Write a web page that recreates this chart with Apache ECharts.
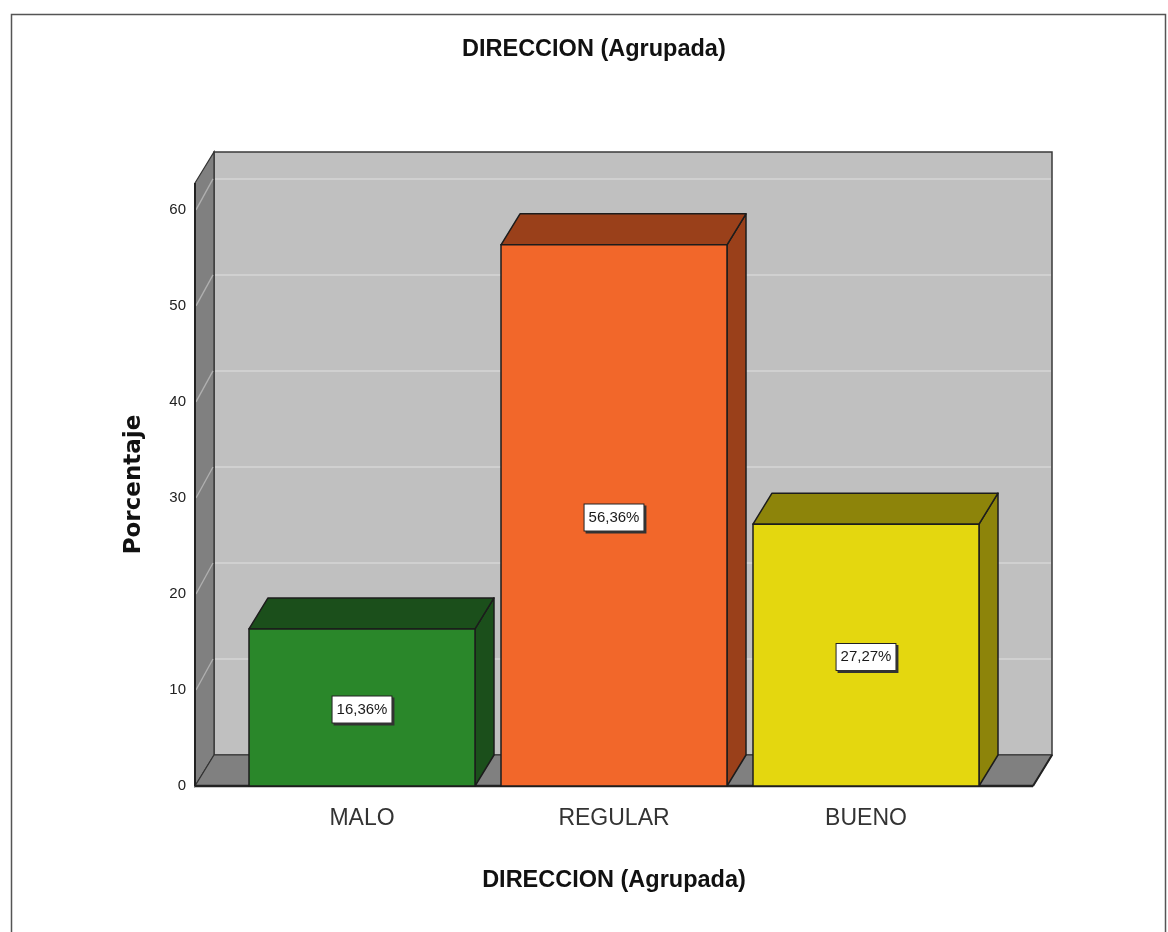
<!DOCTYPE html>
<html>
<head>
<meta charset="utf-8">
<title>DIRECCION (Agrupada)</title>
<script src="https://cdn.jsdelivr.net/npm/echarts@6/dist/echarts.min.js"></script>
<style>
  html, body { margin: 0; padding: 0; background: #ffffff; }
  #chart { width: 1168px; height: 932px; }
</style>
</head>
<body>
<div id="chart"></div>
<script>
// Categories and percentages
const CATEGORIES = ['MALO', 'REGULAR', 'BUENO'];
const PERCENTAGES = [16.36, 56.36, 27.27];
const Y_TICKS = [0, 10, 20, 30, 40, 50, 60];
const Y_MAX = 62.8;

// Styling for the pseudo-3D box
const DEPTH_X = 19;       // depth offset, horizontal
const DEPTH_Y = -31;      // depth offset, vertical
const WALL_PAD = 41;      // extra floor beyond the outer bars
const BAR_RATIO = 226 / 252;
const FRONT_COLORS = ['#2a872a', '#f2672a', '#e4d70f'];
const SHADE_COLORS = ['#1b4f1b', '#9a401a', '#8d840a'];
const EDGE = '#1c1c1c';

const chart = echarts.init(document.getElementById('chart'), null, { renderer: 'canvas' });

function fmt(v) {
  return v.toFixed(2).replace('.', ',') + '%';
}

function renderWalls(params, api) {
  const band = api.size([1, 0])[0];
  const first = api.coord([0, 0]);
  const last = api.coord([CATEGORIES.length - 1, 0]);
  const L = first[0] - band / 2 - WALL_PAD;
  const R = last[0] + band / 2 + WALL_PAD;
  const B = first[1];
  const T = api.coord([0, Y_MAX])[1];
  const dx = DEPTH_X, dy = DEPTH_Y;
  const children = [];

  // back wall
  children.push({
    type: 'rect',
    shape: { x: L + dx, y: T + dy, width: R - L, height: B - T },
    style: { fill: '#c0c0c0', stroke: '#3a3a3a', lineWidth: 1.5 }
  });
  // left side wall
  children.push({
    type: 'polygon',
    shape: { points: [[L, T], [L + dx, T + dy], [L + dx, B + dy], [L, B]] },
    style: { fill: '#808080', stroke: '#333333', lineWidth: 1.2 }
  });
  // floor
  children.push({
    type: 'polygon',
    shape: { points: [[L, B], [L + dx, B + dy], [R + dx, B + dy], [R, B]] },
    style: { fill: '#808080', stroke: '#333333', lineWidth: 1.2 }
  });
  // gridlines on the back wall and across the side wall
  Y_TICKS.forEach(function (t) {
    if (t === 0) return;
    const y = api.coord([0, t])[1];
    children.push({
      type: 'line',
      shape: { x1: L + dx + 1, y1: y + dy, x2: R + dx - 1, y2: y + dy },
      style: { stroke: '#d6d6d6', lineWidth: 1.5 }
    });
    children.push({
      type: 'line',
      shape: { x1: L + 1, y1: y, x2: L + dx - 1, y2: y + dy },
      style: { stroke: '#b0b0b0', lineWidth: 1.3 }
    });
  });
  // front edges
  children.push({
    type: 'line',
    shape: { x1: L, y1: T, x2: L, y2: B },
    style: { stroke: '#222222', lineWidth: 2 }
  });
  children.push({
    type: 'line',
    shape: { x1: L, y1: B, x2: R, y2: B },
    style: { stroke: '#222222', lineWidth: 2.5 }
  });
  children.push({
    type: 'line',
    shape: { x1: R, y1: B, x2: R + dx, y2: B + dy },
    style: { stroke: '#222222', lineWidth: 2 }
  });
  return { type: 'group', children: children };
}

function renderBar(params, api) {
  const idx = api.value(0);
  const val = api.value(1);
  const base = api.coord([idx, 0]);
  const top = api.coord([idx, val]);
  const hw = api.size([1, 0])[0] * BAR_RATIO / 2;
  const x0 = base[0] - hw, x1 = base[0] + hw;
  const yb = base[1], yt = top[1];
  const dx = DEPTH_X, dy = DEPTH_Y;
  const i = params.dataIndex;
  return {
    type: 'group',
    children: [
      {
        type: 'polygon',
        shape: { points: [[x1, yt], [x1 + dx, yt + dy], [x1 + dx, yb + dy], [x1, yb]] },
        style: { fill: SHADE_COLORS[i], stroke: EDGE, lineWidth: 1.5, lineJoin: 'round' }
      },
      {
        type: 'polygon',
        shape: { points: [[x0, yt], [x0 + dx, yt + dy], [x1 + dx, yt + dy], [x1, yt]] },
        style: { fill: SHADE_COLORS[i], stroke: EDGE, lineWidth: 1.5, lineJoin: 'round' }
      },
      {
        type: 'rect',
        shape: { x: x0, y: yt, width: x1 - x0, height: yb - yt },
        style: { fill: FRONT_COLORS[i], stroke: EDGE, lineWidth: 1.5 }
      },
      {
        type: 'text',
        x: base[0],
        y: (yt + yb) / 2 + 2,
        style: {
          text: fmt(val),
          align: 'center',
          verticalAlign: 'middle',
          fontFamily: '"Liberation Sans Narrow", "Arial Narrow", "Liberation Sans", sans-serif',
          fontSize: 15,
          fill: '#1a1a1a',
          backgroundColor: '#ffffff',
          borderColor: '#222222',
          borderWidth: 1,
          padding: [6, 4, 5, 4],
          shadowColor: '#333333',
          shadowOffsetX: 2,
          shadowOffsetY: 2,
          shadowBlur: 0
        }
      }
    ]
  };
}

const option = {
  animation: false,
  backgroundColor: '#ffffff',
  title: {
    text: 'DIRECCION (Agrupada)',
    left: 457,
    top: 33,
    textStyle: {
      fontFamily: '"Liberation Sans", Arial, sans-serif',
      fontWeight: 'bold',
      fontSize: 23.5,
      color: '#111111'
    }
  },
  graphic: [{
    type: 'rect',
    left: 9,
    top: 12,
    shape: { width: 1154, height: 940 },
    style: { fill: 'none', stroke: '#555555', lineWidth: 1.5 },
    silent: true
  }],
  grid: { left: 236, right: 176, top: 183, bottom: 146 },
  xAxis: {
    type: 'category',
    data: CATEGORIES,
    boundaryGap: true,
    axisLine: { show: false },
    axisTick: { show: false },
    axisLabel: {
      margin: 21,
      fontFamily: '"Liberation Sans", Arial, sans-serif',
      fontSize: 23,
      color: '#333333'
    },
    name: 'DIRECCION (Agrupada)',
    nameLocation: 'middle',
    nameGap: 83,
    nameTextStyle: {
      fontFamily: '"Liberation Sans", Arial, sans-serif',
      fontWeight: 'bold',
      fontSize: 23.5,
      color: '#111111'
    }
  },
  yAxis: {
    type: 'value',
    min: 0,
    max: Y_MAX,
    interval: 10,
    offset: WALL_PAD,
    axisLine: { show: false },
    axisTick: { show: false },
    splitLine: { show: false },
    axisLabel: {
      margin: 9,
      fontFamily: '"Liberation Sans Narrow", "Arial Narrow", "Liberation Sans", sans-serif',
      fontSize: 15,
      color: '#222222',
      showMaxLabel: false
    },
    name: 'Porcentaje',
    nameLocation: 'middle',
    nameRotate: 90,
    nameGap: 49,
    nameTextStyle: {
      fontFamily: '"DejaVu Sans", Arial, sans-serif',
      fontWeight: 'bold',
      fontSize: 23,
      color: '#111111'
    }
  },
  series: [
    {
      type: 'custom',
      name: 'box',
      silent: true,
      z: 1,
      clip: false,
      renderItem: renderWalls,
      data: [[0, 0]]
    },
    {
      type: 'custom',
      name: 'Porcentaje',
      z: 2,
      clip: false,
      renderItem: renderBar,
      encode: { x: 0, y: 1 },
      data: PERCENTAGES.map(function (v, i) { return [i, v]; })
    }
  ]
};

chart.setOption(option);
</script>
</body>
</html>
